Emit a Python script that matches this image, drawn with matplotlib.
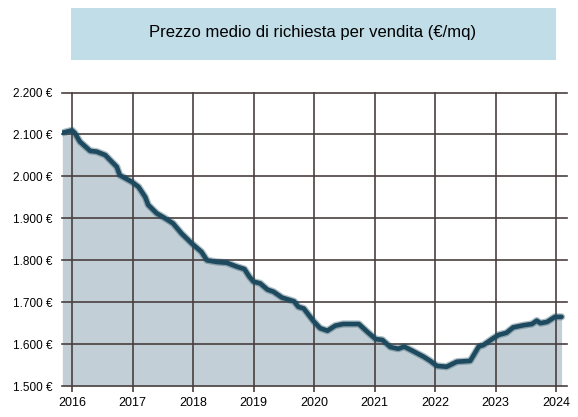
import matplotlib
matplotlib.use("Agg")
import matplotlib.pyplot as plt
from matplotlib.patches import Rectangle

plt.rcParams['font.family'] = ['Liberation Sans', 'DejaVu Sans']

# valori (anno decimale, €/mq)
anni = [2015.84, 2016.00, 2016.05, 2016.13, 2016.30, 2016.41, 2016.55, 2016.63,
        2016.74, 2016.79, 2016.99, 2017.10, 2017.21, 2017.26, 2017.40, 2017.54,
        2017.67, 2017.81, 2017.98, 2018.14, 2018.23, 2018.39, 2018.56, 2018.72,
        2018.85, 2018.93, 2019.00, 2019.11, 2019.23, 2019.33, 2019.47, 2019.67,
        2019.74, 2019.83, 2019.99, 2020.10, 2020.22, 2020.35, 2020.48, 2020.74,
        2020.89, 2021.02, 2021.13, 2021.26, 2021.39, 2021.49, 2021.64, 2021.81,
        2021.92, 2022.03, 2022.19, 2022.36, 2022.58, 2022.72, 2022.80, 2022.96,
        2023.05, 2023.18, 2023.29, 2023.46, 2023.60, 2023.68, 2023.74, 2023.85,
        2023.98, 2024.09]
prezzi = [2104, 2110, 2103, 2083, 2061, 2059, 2051, 2039,
          2023, 2003, 1987, 1975, 1951, 1932, 1912, 1900,
          1888, 1864, 1840, 1820, 1800, 1796, 1794, 1785,
          1779, 1761, 1749, 1745, 1730, 1725, 1711, 1702,
          1689, 1685, 1655, 1638, 1632, 1644, 1648, 1648,
          1628, 1612, 1610, 1593, 1589, 1594, 1583, 1570,
          1560, 1548, 1546, 1558, 1560, 1594, 1598, 1614,
          1622, 1627, 1640, 1645, 1648, 1656, 1650, 1653,
          1665, 1665]

yticks = [1500, 1600, 1700, 1800, 1900, 2000, 2100, 2200]
ylabels = ['1.500 €', '1.600 €', '1.700 €', '1.800 €', '1.900 €', '2.000 €', '2.100 €', '2.200 €']
xticks = [2016, 2017, 2018, 2019, 2020, 2021, 2022, 2023, 2024]
titolo = 'Prezzo medio di richiesta per vendita (€/mq)'

griglia = '#4a3f3f'

fig = plt.figure(figsize=(5.78, 4.17), dpi=100)
ax = fig.add_axes([0.1073, 0.0743, 0.8737, 0.7037])

ax.fill_between(anni, 1500, prezzi, color='#c3cfd6', lw=0, zorder=1)
# alone morbido sotto la linea
ax.plot(anni, prezzi, color='#1d4a5e', lw=5.2, alpha=0.35, solid_capstyle='round',
        solid_joinstyle='round', zorder=3)
ax.plot(anni, prezzi, color='#1d4a5e', lw=3.3, solid_capstyle='round',
        solid_joinstyle='round', zorder=4)

ax.set_xlim(2015.835, 2024.18)
ax.set_ylim(1500, 2200)
ax.set_xticks(xticks)
ax.set_xticklabels([str(a) for a in xticks], fontsize=9)
ax.set_yticks(yticks)
ax.set_yticklabels(ylabels, fontsize=8.5)

ax.set_axisbelow(False)
ax.grid(True, color=griglia, lw=1.2, zorder=2)
for s in ax.spines.values():
    s.set_visible(False)
ax.tick_params(axis='x', length=4, width=1.2, color=griglia, pad=4)
ax.tick_params(axis='y', length=0, pad=7)
for gl in ax.get_xgridlines() + ax.get_ygridlines():
    gl.set_clip_on(False)

# riquadro del titolo
fig.patches.append(Rectangle((71 / 578, 1 - 60 / 417), 485 / 578, 52 / 417,
                             transform=fig.transFigure, facecolor='#c0dde8',
                             edgecolor='none', zorder=0))
fig.text(313 / 578, 1 - 32 / 417, titolo, ha='center', va='center', fontsize=12)

fig.savefig('out.png', dpi=100)
